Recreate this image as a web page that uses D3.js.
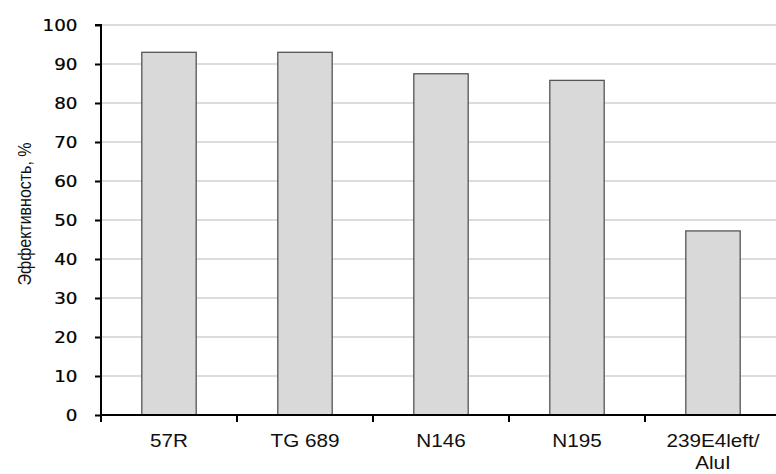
<!DOCTYPE html>
<html><head><meta charset="utf-8">
<script src="https://cdn.jsdelivr.net/npm/d3@7"></script>
<style>body{margin:0;background:#fff}</style>
</head><body>
<svg id="c" width="776" height="474"></svg>
<script>
const categories = [["57R"], ["TG 689"], ["N146"], ["N195"], ["239E4left/", "AluI"]];
const values = [93, 93, 87.5, 85.8, 47.2];
const yTicks = [0, 10, 20, 30, 40, 50, 60, 70, 80, 90, 100];
const yLabel = "Эффективность, %";

const svg = d3.select("#c");
const x0 = 101, x1 = 781, yTop = 25, yBot = 415;
const x = d3.scaleBand().domain(d3.range(categories.length)).range([x0, x1]).paddingInner(0.6).paddingOuter(0.3);
const xb = d3.scaleBand().domain(d3.range(categories.length)).range([x0, x1]);
const y = d3.scaleLinear().domain([0, 100]).range([yBot, yTop]);

// gridlines
svg.append("g").selectAll("line").data(yTicks.filter(d => d > 0)).join("line")
  .attr("x1", x0).attr("x2", 776).attr("y1", d => y(d)).attr("y2", d => y(d))
  .attr("stroke", "#d0d0d0").attr("stroke-width", 1.5);

// bars
svg.append("g").selectAll("rect").data(values).join("rect")
  .attr("x", (d, i) => x(i)).attr("width", x.bandwidth())
  .attr("y", d => y(d)).attr("height", d => yBot - y(d))
  .attr("fill", "#d9d9d9").attr("stroke", "#555").attr("stroke-width", 1.3);

// y axis
const ya = svg.append("g").attr("transform", `translate(${x0},0)`)
  .call(d3.axisLeft(y).tickValues(yTicks).tickSize(6).tickPadding(17));
ya.select(".domain").attr("stroke", "#000").attr("stroke-width", 2).attr("d", `M-6,${yTop}H0V${yBot}`);
ya.selectAll(".tick line").attr("stroke", "#000").attr("stroke-width", 2);
ya.selectAll(".tick text")
  .attr("x", 0).attr("transform", "translate(-23.5,0) scale(1.11,1)")
  .attr("font-family", "DejaVu Sans, sans-serif").attr("font-size", 16.5).attr("fill", "#000")
  .attr("stroke", "#000").attr("stroke-width", 0.25);

// x axis
const xa = svg.append("g").attr("transform", `translate(0,${yBot})`)
  .call(d3.axisBottom(xb).tickValues(d3.range(1, categories.length)).tickSize(7).tickFormat(""));
xa.select(".domain").attr("stroke", "#000").attr("stroke-width", 2).attr("d", `M${x0},7V0H${x1}`);
xa.selectAll(".tick").attr("transform", d => `translate(${xb(d)},0)`);
xa.selectAll(".tick line").attr("stroke", "#000").attr("stroke-width", 2);

// category labels
const lab = svg.append("g").selectAll("text").data(categories).join("text")
  .attr("transform", (d, i) => `translate(${xb(i) + xb.bandwidth() / 2},447) scale(1.15,1)`)
  .attr("text-anchor", "middle").attr("font-family", "Liberation Sans, Arial, sans-serif")
  .attr("font-size", 18).attr("fill", "#111");
lab.selectAll("tspan").data(d => d).join("tspan")
  .attr("x", 0).attr("y", (d, i) => i * 22).text(d => d);

// y label
svg.append("text").attr("transform", `translate(31,214) rotate(-90) scale(1,1.12)`)
  .attr("text-anchor", "middle").attr("font-family", "Liberation Sans, Arial, sans-serif")
  .attr("font-size", 16).attr("fill", "#111").text(yLabel);
</script>
</body></html>
